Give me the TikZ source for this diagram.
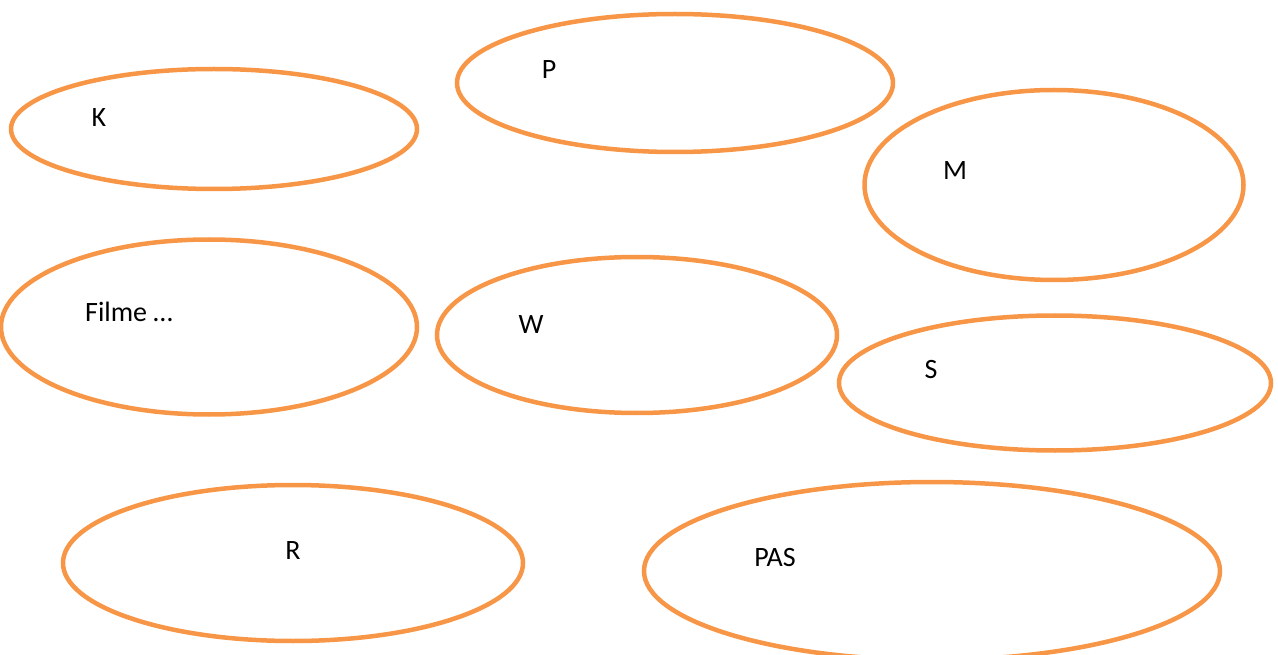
\documentclass[tikz,border=0pt]{standalone}
\usepackage{fontspec}
\setmainfont{Carlito}
\usetikzlibrary{shapes.geometric}
\definecolor{ellorange}{RGB}{247,150,70}
\begin{document}
\begin{tikzpicture}[x=1pt,y=-1pt,
  ell/.style={ellipse,draw=ellorange,line width=4.5pt,inner sep=0pt},
  lbl/.style={font=\fontsize{28}{33}\selectfont,inner sep=0pt}]
\useasboundingbox (0,0) rectangle (1278,655);
\node[ell,minimum width=406pt,minimum height=120pt] (k) at (214,129) {};
\node[ell,minimum width=436pt,minimum height=138pt] (p) at (675,83) {};
\node[ell,minimum width=379pt,minimum height=190pt] (m) at (1054,185) {};
\node[ell,minimum width=416pt,minimum height=175pt] (f) at (209,327) {};
\node[ell,minimum width=400pt,minimum height=156pt] (w) at (637,335) {};
\node[ell,minimum width=432pt,minimum height=135pt] (s) at (1055,383) {};
\node[ell,minimum width=460pt,minimum height=156pt] (r) at (293,563) {};
\node[ell,minimum width=576pt,minimum height=178pt] (pas) at (932,571) {};
\node[lbl] (tk) at (99,118) {K};
\node[lbl] (tp) at (549,70) {P};
\node[lbl] (tm) at (955,171) {M};
\node[lbl] (tf) at (129,312) {Filme …};
\node[lbl] (tw) at (531,325) {W};
\node[lbl] (ts) at (931,370) {S};
\node[lbl] (tr) at (293,551) {R};
\node[lbl] (tpas) at (775,558) {PAS};
\end{tikzpicture}
\end{document}
